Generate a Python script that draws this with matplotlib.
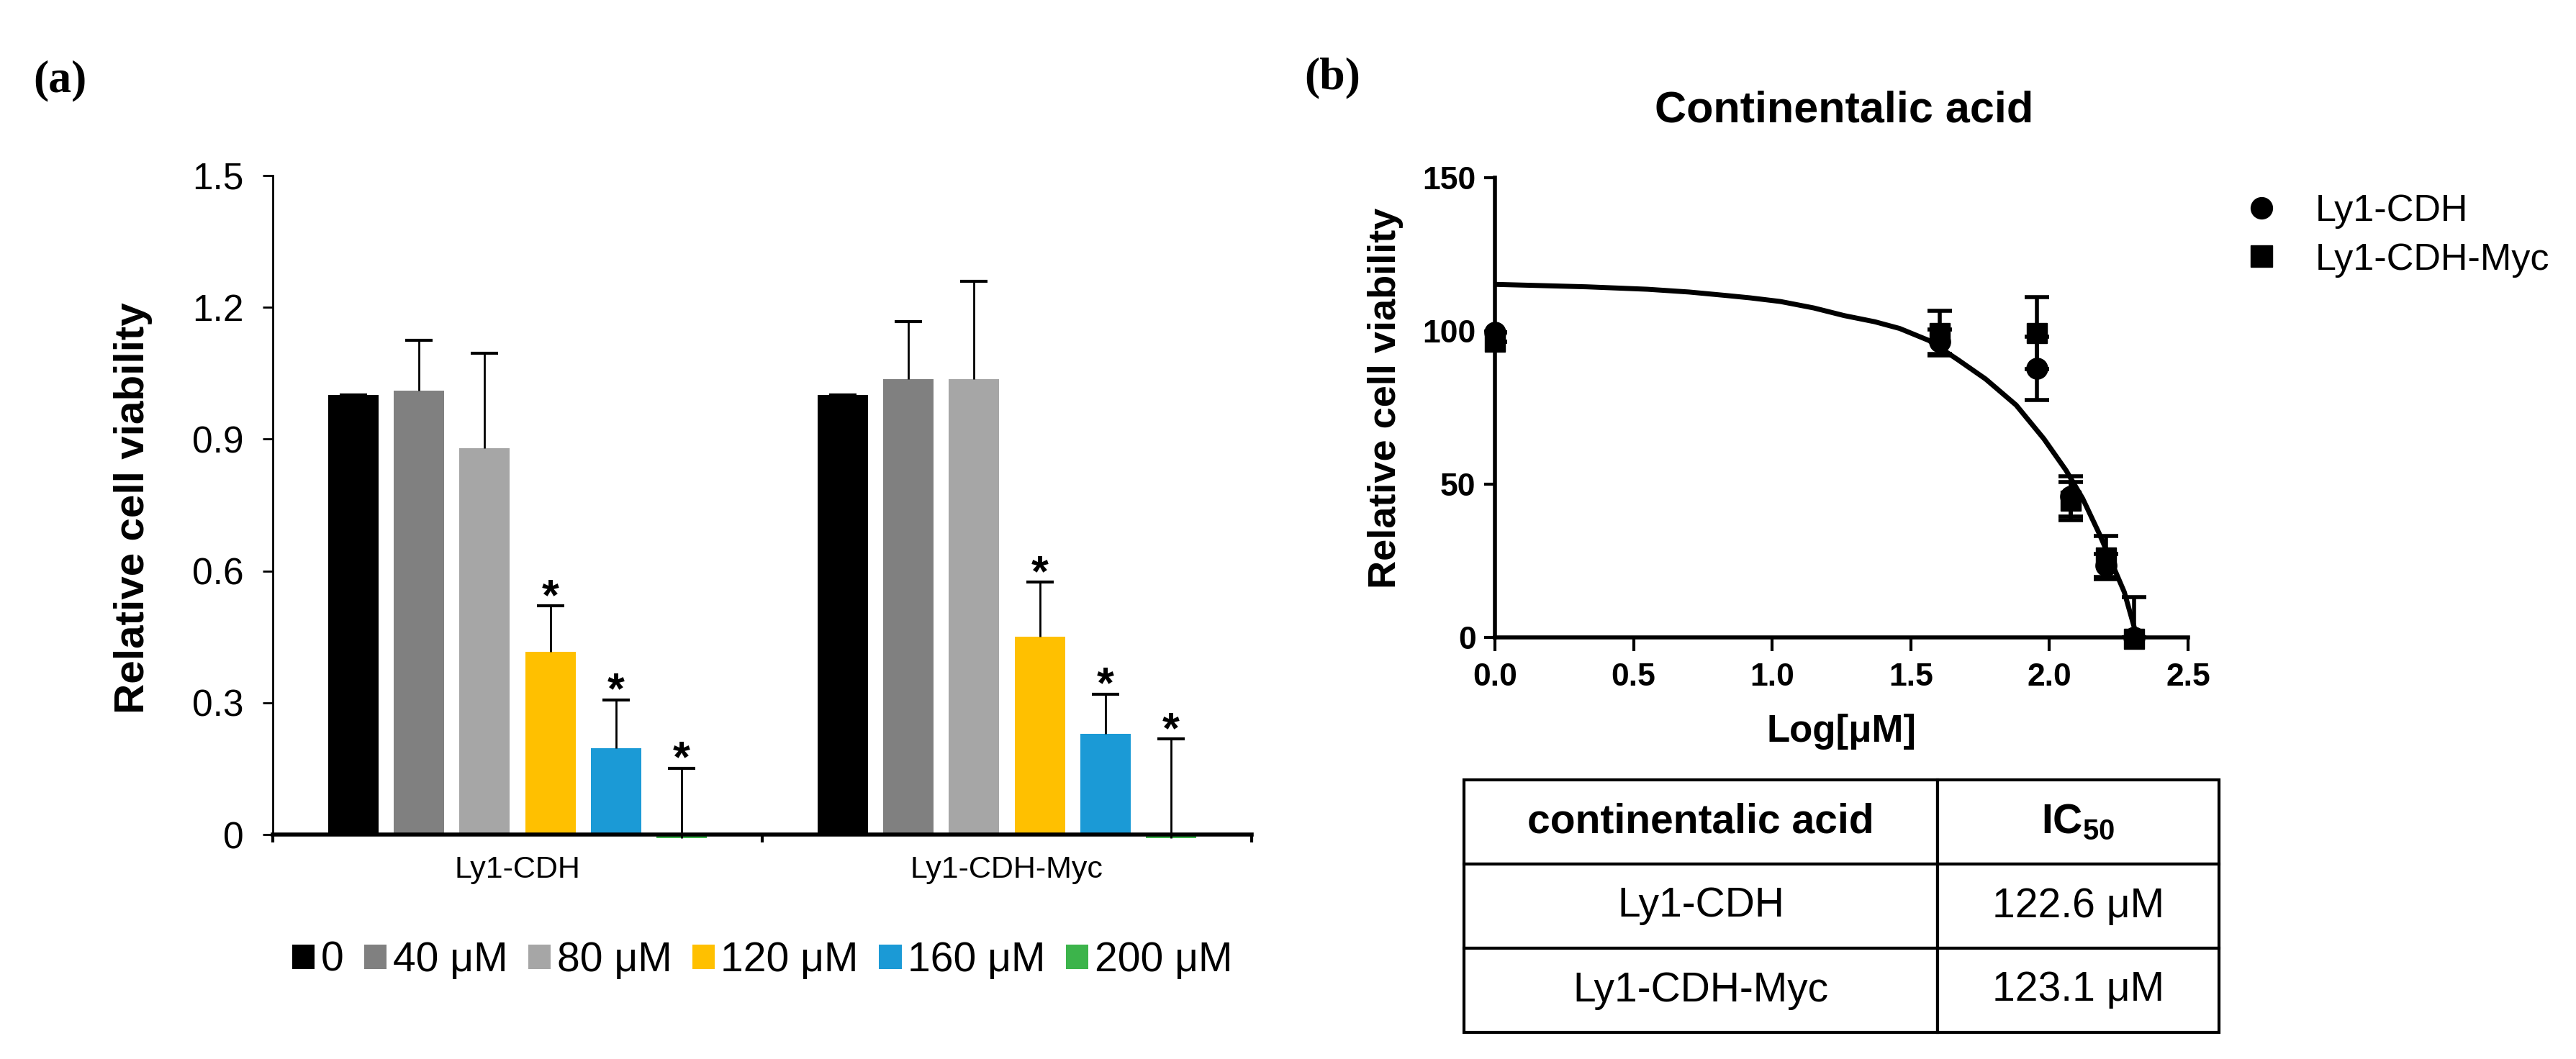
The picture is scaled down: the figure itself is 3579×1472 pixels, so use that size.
import matplotlib
matplotlib.use("Agg")
import matplotlib.pyplot as plt
import numpy as np
from matplotlib.patches import Patch
from matplotlib.lines import Line2D

plt.rcParams["font.family"] = ["Liberation Sans", "DejaVu Sans"]
plt.rcParams["mathtext.fontset"] = "custom"
plt.rcParams["mathtext.rm"] = "Liberation Sans"
plt.rcParams["mathtext.bf"] = "Liberation Sans:bold"

# ---- panel (a) data ----
cell_lines = ["Ly1-CDH", "Ly1-CDH-Myc"]
doses = ["0", "40 μM", "80 μM", "120 μM", "160 μM", "200 μM"]
dose_colors = ["#000000", "#808080", "#a6a6a6", "#ffc000", "#1b9ad6", "#3cb44b"]
viab_cdh = [1.0, 1.01, 0.879, 0.416, 0.197, -0.008]
err_cdh = [0.0, 0.115, 0.216, 0.104, 0.110, 0.159]
viab_myc = [1.0, 1.036, 1.036, 0.451, 0.230, -0.008]
err_myc = [0.0, 0.131, 0.223, 0.124, 0.090, 0.226]
significant = [False, False, False, True, True, True]
yticks_a = [0, 0.3, 0.6, 0.9, 1.2, 1.5]
ytick_labels_a = ["0", "0.3", "0.6", "0.9", "1.2", "1.5"]

# ---- panel (b) data ----
log_dose = [0.0, 1.604, 1.955, 2.078, 2.205, 2.305]
cdh_mean = [99.5, 96.5, 87.8, 46.0, 23.5, 0.0]
cdh_err = [0.0, 4.0, 10.3, 6.5, 3.7, 0.0]
myc_mean = [96.5, 99.3, 99.3, 44.5, 26.0, -0.5]
myc_err = [0.0, 7.3, 11.7, 6.3, 7.0, 13.6]
fit_x = [0.0, 0.33, 0.55, 0.70, 0.83, 0.92, 1.03, 1.15, 1.26, 1.37, 1.46,
         1.565, 1.67, 1.77, 1.88, 1.98, 2.06, 2.12, 2.18, 2.27, 2.31]
fit_y = [115.2, 114.4, 113.6, 112.7, 111.6, 110.8, 109.6, 107.5, 105.0, 103.0, 100.8,
         96.9, 90.6, 84.3, 75.8, 64.8, 54.5, 45.3, 33.8, 14.8, 2.0]
table_rows = [["continentalic acid", "IC$_\\mathbf{50}$"],
              ["Ly1-CDH", "122.6 μM"],
              ["Ly1-CDH-Myc", "123.1 μM"]]

W, H = 3579, 1472
fig = plt.figure(figsize=(W / 100, H / 100), dpi=100)

# ================= (a) bar chart =================
ax = fig.add_axes([379 / W, 1 - 1160 / H, 1360 / W, 916 / H])
centers = np.array([0.5, 1.5])
step = 0.134
width = 0.103
for i, dose in enumerate(doses):
    xs = centers + (i - 2.5) * step
    vals = [viab_cdh[i], viab_myc[i]]
    errs = [err_cdh[i], err_myc[i]]
    ax.bar(xs, vals, width=width, color=dose_colors[i], edgecolor="none",
           clip_on=False, zorder=1, label=dose)
    eb = ax.errorbar(xs, vals, yerr=[[0, 0], errs], fmt="none", ecolor="black",
                     elinewidth=2, capsize=13.5, capthick=3, zorder=2, clip_on=False)
    # only the upper cap is drawn, like the original figure
    for cap in eb[1]:
        if np.allclose(cap.get_ydata(), vals) and i > 0:
            cap.set_visible(False)
    if significant[i]:
        for x, v, e in zip(xs, vals, errs):
            ax.text(x, v + e - 0.008, "*", ha="center", va="baseline",
                    fontsize=44, fontweight="bold")

ax.set_xlim(0, 2)
ax.set_ylim(0, 1.5)
ax.spines["top"].set_visible(False)
ax.spines["right"].set_visible(False)
ax.spines["left"].set_linewidth(2)
ax.spines["bottom"].set_linewidth(4)
ax.set_yticks(yticks_a)
ax.set_yticklabels(ytick_labels_a)
ax.tick_params(axis="y", direction="out", length=10, width=2, pad=19, labelsize=37)
ax.set_xticks([0, 1, 2])
ax.set_xticklabels([])
ax.tick_params(axis="x", which="major", direction="out", length=8, width=3)
ax.set_xticks(centers, minor=True)
ax.set_xticklabels(cell_lines, minor=True)
ax.tick_params(axis="x", which="minor", length=0, pad=21, labelsize=31)
ax.set_ylabel("Relative cell viability", fontsize=42, fontweight="bold", va="center")
ax.yaxis.set_label_coords(-0.143, 0.496)

handles = [Patch(facecolor=c, edgecolor="none") for c in dose_colors]
fig.legend(handles, doses, loc="center", bbox_to_anchor=(1059 / W, 1 - 1335 / H),
           ncol=6, frameon=False, fontsize=41, handlelength=0.55, handleheight=0.55,
           handletextpad=0.15, columnspacing=0.5, borderpad=0, borderaxespad=0)

fig.text(46 / W, 1 - 112 / H, "(a)", family="Liberation Serif", fontweight="bold",
         fontsize=46, ha="left", va="center")

# ================= (b) dose response =================
bx = fig.add_axes([2077 / W, 1 - 886 / H, 963 / W, 639 / H])
bx.plot(fit_x, fit_y, color="black", lw=5, zorder=2, solid_capstyle="round")
bx.errorbar(log_dose, cdh_mean, yerr=cdh_err, fmt="none", ecolor="black",
            elinewidth=4, capsize=12, capthick=4, zorder=3)
bx.errorbar(log_dose, myc_mean, yerr=myc_err, fmt="none", ecolor="black",
            elinewidth=4, capsize=12, capthick=4, zorder=3)
bx.plot(log_dose, cdh_mean, "o", color="black", markersize=21, ls="none",
        clip_on=False, zorder=4)
bx.plot(log_dose, myc_mean, "s", color="black", markersize=20, ls="none",
        clip_on=False, zorder=5)
bx.set_xlim(0, 2.5)
bx.set_ylim(0, 150)
bx.spines["top"].set_visible(False)
bx.spines["right"].set_visible(False)
bx.spines["left"].set_linewidth(4)
bx.spines["bottom"].set_linewidth(4)
bx.set_xticks([0, 0.5, 1.0, 1.5, 2.0, 2.5])
bx.set_xticklabels(["0.0", "0.5", "1.0", "1.5", "2.0", "2.5"], fontweight="bold")
bx.set_yticks([0, 50, 100, 150])
bx.set_yticklabels(["0", "50", "100", "150"], fontweight="bold")
bx.tick_params(axis="x", direction="out", length=14, width=3, pad=11, labelsize=32)
bx.tick_params(axis="y", direction="out", length=11, width=3, pad=8, labelsize=32)
bx.set_ylabel("Relative cell viability", fontsize=39, fontweight="bold", va="center")
bx.yaxis.set_label_coords(-0.158, 0.52)
bx.set_xlabel("Log[μM]", fontsize=38, fontweight="bold", va="center")
bx.xaxis.set_label_coords(0.5, -0.205)
bx.text(0.504, 1.145, "Continentalic acid", transform=bx.transAxes, ha="center",
        va="center", fontsize=44, fontweight="bold")

leg_handles = [Line2D([], [], marker="o", ls="none", color="black", markersize=21.5),
               Line2D([], [], marker="s", ls="none", color="black", markersize=21.5)]
fig.legend(leg_handles, cell_lines, loc="center left",
           bbox_to_anchor=(3126 / W, 1 - 327.5 / H), frameon=False, fontsize=37.5,
           handlelength=0.6, handletextpad=1.15, labelspacing=0.35, borderpad=0,
           borderaxespad=0)

fig.text(1812 / W, 1 - 108 / H, "(b)", family="Liberation Serif", fontweight="bold",
         fontsize=46, ha="left", va="center")

# ---- IC50 table ----
tx = fig.add_axes([2034 / W, 1 - 1435 / H, 1049 / W, 351 / H])
tx.axis("off")
tbl = tx.table(cellText=table_rows, colWidths=[0.627, 0.373], cellLoc="center",
               bbox=[0, 0, 1, 1])
tbl.auto_set_font_size(False)
for (r, c), cell in tbl.get_celld().items():
    cell.set_linewidth(3)
    cell.set_edgecolor("black")
    cell.get_text().set_fontsize(41)
    if r == 0:
        cell.get_text().set_fontweight("bold")

fig.savefig("out.png", dpi=100)
